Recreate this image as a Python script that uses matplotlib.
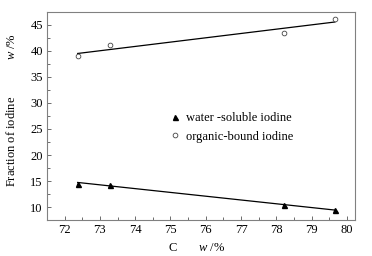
import numpy as np
import matplotlib
matplotlib.use("Agg")
import matplotlib.pyplot as plt
from matplotlib.ticker import MultipleLocator

plt.rcParams['font.family'] = ['Liberation Serif', 'DejaVu Serif']
plt.rcParams['mathtext.fontset'] = 'custom'
plt.rcParams['mathtext.rm'] = 'Liberation Serif'
plt.rcParams['mathtext.it'] = 'Liberation Serif:italic'

carbon = [72.37, 73.29, 78.21, 79.66]
water_soluble = [14.55, 14.35, 10.45, 9.5]
organic_bound = [38.9, 41.05, 43.45, 46.05]

fig = plt.figure(figsize=(3.72, 2.56), dpi=100)
ax = fig.add_axes([47/372, 1-220/256, 308/372, 208/256])

xs = np.array([min(carbon), max(carbon)])
for ys in (water_soluble, organic_bound):
    p = np.polyfit(carbon, ys, 1)
    ax.plot(xs, np.polyval(p, xs), color='black', lw=0.9)

ax.plot(carbon, water_soluble, linestyle='none', marker='^', ms=3.6,
        mfc='black', mec='black', label='water -soluble iodine')
ax.plot(carbon, organic_bound, linestyle='none', marker='o', ms=3.4,
        mfc='white', mec='#444444', mew=0.6, label='organic-bound iodine')

ax.set_xlim(71.5, 80.23)
ax.set_ylim(7.57, 47.4)
ax.xaxis.set_major_locator(MultipleLocator(1))
ax.xaxis.set_minor_locator(MultipleLocator(0.5))
ax.yaxis.set_major_locator(MultipleLocator(5))
ax.yaxis.set_minor_locator(MultipleLocator(2.5))
ax.tick_params(which='both', direction='in', top=False, right=False,
               labelsize=9, color='#555555', pad=3)
ax.tick_params(which='major', length=3, width=0.6)
ax.tick_params(which='minor', length=2, width=0.6)
for s in ax.spines.values():
    s.set_color('#808080')
    s.set_linewidth(0.8)

ax.set_xlabel(r'C       $\mathit{w}$ /%', fontsize=9)
ax.xaxis.set_label_coords(0.487, -0.105)
ax.set_ylabel(r'Fraction of iodine            $\mathit{w}$ /%', fontsize=9)
ax.yaxis.set_label_coords(-0.095, 0.53)

ax.legend(loc='upper left', bbox_to_anchor=(0.374, 0.56), frameon=False,
          fontsize=9, handlelength=0.6, handletextpad=0.6, labelspacing=0.5,
          borderpad=0.2)

fig.savefig('out.png', dpi=100)
